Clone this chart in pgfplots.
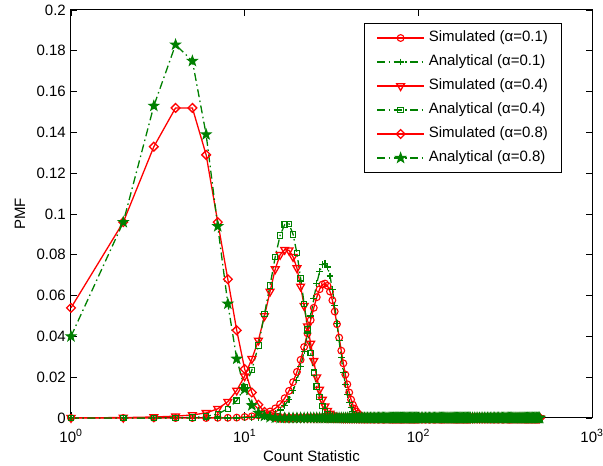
\documentclass[border=0pt]{standalone}
\usepackage{fontspec}
\setmainfont{Liberation Sans}
\usepackage{pgfplots}
\usepackage{pgfplotstable}
\pgfplotsset{compat=1.18}
\usetikzlibrary{plotmarks}
\definecolor{mgreen}{rgb}{0,0.5,0}
\pgfdeclareplotmark{pentagram}{%
  \pgfpathmoveto{\pgfpointpolar{90}{\pgfplotmarksize}}%
  \pgfpathlineto{\pgfpointpolar{126}{0.4\pgfplotmarksize}}%
  \pgfpathlineto{\pgfpointpolar{162}{\pgfplotmarksize}}%
  \pgfpathlineto{\pgfpointpolar{198}{0.4\pgfplotmarksize}}%
  \pgfpathlineto{\pgfpointpolar{234}{\pgfplotmarksize}}%
  \pgfpathlineto{\pgfpointpolar{270}{0.4\pgfplotmarksize}}%
  \pgfpathlineto{\pgfpointpolar{306}{\pgfplotmarksize}}%
  \pgfpathlineto{\pgfpointpolar{342}{0.4\pgfplotmarksize}}%
  \pgfpathlineto{\pgfpointpolar{18}{\pgfplotmarksize}}%
  \pgfpathlineto{\pgfpointpolar{54}{0.4\pgfplotmarksize}}%
  \pgfpathclose
  \pgfusepathqfillstroke
}
\pgfplotstableread{
x s1 a1 s4 a4 s8 a8
1 0 0 0.0001 0 0.054 0.040
2 0 0 0.0002 0 0.096 0.096
3 0 0 0.0005 0 0.133 0.153
4 0 0 0.0009 0.0001 0.152 0.183
5 0 0 0.0015 0.0003 0.152 0.175
6 0 0 0.0025 0.0008 0.129 0.139
7 0.0001 0 0.0045 0.0020 0.096 0.094
8 0.0001 0 0.0080 0.0045 0.068 0.056
9 0.0002 0 0.0135 0.0085 0.043 0.029
10 0.0005 0.0001 0.0205 0.0150 0.024 0.0141
11 0.0008 0.0002 0.0290 0.0235 0.0125 0.0062
12 0.0013 0.0004 0.0380 0.0355 0.0065 0.0025
13 0.0021 0.0008 0.0500 0.0510 0.0030 0.0010
14 0.0032 0.0014 0.0620 0.0650 0.0013 0.0004
15 0.0047 0.0024 0.0730 0.0790 0.0005 0.0001
16 0.0068 0.0039 0.0800 0.0895 0.0002 0
17 0.0097 0.0061 0.0825 0.0948 0.0001 0
18 0.0133 0.0092 0.0822 0.0952 0 0
19 0.0176 0.0133 0.0790 0.0900 0 0
20 0.0226 0.0186 0.0735 0.0808 0 0
21 0.0285 0.0252 0.0645 0.0685 0 0
22 0.0348 0.0328 0.0550 0.0560 0 0
23 0.0415 0.0413 0.0450 0.0435 0 0
24 0.0480 0.0500 0.0365 0.0318 0 0
25 0.0540 0.0585 0.0280 0.0222 0 0
26 0.0592 0.0659 0.0200 0.0155 0 0
27 0.0631 0.0717 0.0140 0.0102 0 0
28 0.0654 0.0751 0.0090 0.0060 0 0
29 0.0659 0.0759 0.0058 0.0035 0 0
30 0.0648 0.0740 0.0036 0.0019 0 0
31 0.0620 0.0696 0.0022 0.0010 0 0
32 0.0577 0.0631 0.0013 0.0005 0 0
33 0.0522 0.0552 0.0008 0.0002 0 0
34 0.0460 0.0465 0.0004 0.0001 0 0
35 0.0394 0.0378 0.0002 0 0 0
36 0.0330 0.0297 0.0001 0 0 0
37 0.0268 0.0224 0 0 0 0
38 0.0213 0.0163 0 0 0 0
39 0.0165 0.0115 0 0 0 0
40 0.0125 0.0078 0 0 0 0
41 0.0090 0.0051 0 0 0 0
42 0.0065 0.0032 0 0 0 0
43 0.0046 0.0020 0 0 0 0
44 0.0032 0.0012 0 0 0 0
45 0.0022 0.0007 0 0 0 0
46 0.0014 0.0004 0 0 0 0
47 0.0009 0.0002 0 0 0 0
48 0.0005 0.0001 0 0 0 0
49 0.0003 0 0 0 0 0
50 0.0002 0 0 0 0 0
51 0.0001 0 0 0 0 0
52 0 0 0 0 0 0
53 0 0 0 0 0 0
54 0 0 0 0 0 0
55 0 0 0 0 0 0
56 0 0 0 0 0 0
57 0 0 0 0 0 0
58 0 0 0 0 0 0
59 0 0 0 0 0 0
60 0 0 0 0 0 0
61 0 0 0 0 0 0
62 0 0 0 0 0 0
63 0 0 0 0 0 0
64 0 0 0 0 0 0
65 0 0 0 0 0 0
66 0 0 0 0 0 0
67 0 0 0 0 0 0
68 0 0 0 0 0 0
69 0 0 0 0 0 0
70 0 0 0 0 0 0
71 0 0 0 0 0 0
72 0 0 0 0 0 0
73 0 0 0 0 0 0
74 0 0 0 0 0 0
75 0 0 0 0 0 0
76 0 0 0 0 0 0
77 0 0 0 0 0 0
78 0 0 0 0 0 0
79 0 0 0 0 0 0
80 0 0 0 0 0 0
81 0 0 0 0 0 0
82 0 0 0 0 0 0
83 0 0 0 0 0 0
84 0 0 0 0 0 0
85 0 0 0 0 0 0
86 0 0 0 0 0 0
87 0 0 0 0 0 0
88 0 0 0 0 0 0
89 0 0 0 0 0 0
90 0 0 0 0 0 0
91 0 0 0 0 0 0
92 0 0 0 0 0 0
93 0 0 0 0 0 0
94 0 0 0 0 0 0
95 0 0 0 0 0 0
96 0 0 0 0 0 0
97 0 0 0 0 0 0
98 0 0 0 0 0 0
99 0 0 0 0 0 0
100 0 0 0 0 0 0
102 0 0 0 0 0 0
104 0 0 0 0 0 0
106 0 0 0 0 0 0
108 0 0 0 0 0 0
110 0 0 0 0 0 0
112 0 0 0 0 0 0
114 0 0 0 0 0 0
116 0 0 0 0 0 0
118 0 0 0 0 0 0
120 0 0 0 0 0 0
122 0 0 0 0 0 0
124 0 0 0 0 0 0
126 0 0 0 0 0 0
128 0 0 0 0 0 0
130 0 0 0 0 0 0
132 0 0 0 0 0 0
134 0 0 0 0 0 0
136 0 0 0 0 0 0
138 0 0 0 0 0 0
140 0 0 0 0 0 0
142 0 0 0 0 0 0
144 0 0 0 0 0 0
146 0 0 0 0 0 0
148 0 0 0 0 0 0
150 0 0 0 0 0 0
152 0 0 0 0 0 0
154 0 0 0 0 0 0
156 0 0 0 0 0 0
158 0 0 0 0 0 0
160 0 0 0 0 0 0
162 0 0 0 0 0 0
164 0 0 0 0 0 0
166 0 0 0 0 0 0
168 0 0 0 0 0 0
170 0 0 0 0 0 0
172 0 0 0 0 0 0
174 0 0 0 0 0 0
176 0 0 0 0 0 0
178 0 0 0 0 0 0
180 0 0 0 0 0 0
182 0 0 0 0 0 0
184 0 0 0 0 0 0
186 0 0 0 0 0 0
188 0 0 0 0 0 0
190 0 0 0 0 0 0
192 0 0 0 0 0 0
194 0 0 0 0 0 0
196 0 0 0 0 0 0
198 0 0 0 0 0 0
200 0 0 0 0 0 0
205 0 0 0 0 0 0
210 0 0 0 0 0 0
215 0 0 0 0 0 0
220 0 0 0 0 0 0
225 0 0 0 0 0 0
230 0 0 0 0 0 0
235 0 0 0 0 0 0
240 0 0 0 0 0 0
245 0 0 0 0 0 0
250 0 0 0 0 0 0
255 0 0 0 0 0 0
260 0 0 0 0 0 0
265 0 0 0 0 0 0
270 0 0 0 0 0 0
275 0 0 0 0 0 0
280 0 0 0 0 0 0
285 0 0 0 0 0 0
290 0 0 0 0 0 0
295 0 0 0 0 0 0
300 0 0 0 0 0 0
305 0 0 0 0 0 0
310 0 0 0 0 0 0
315 0 0 0 0 0 0
320 0 0 0 0 0 0
325 0 0 0 0 0 0
330 0 0 0 0 0 0
335 0 0 0 0 0 0
340 0 0 0 0 0 0
345 0 0 0 0 0 0
350 0 0 0 0 0 0
355 0 0 0 0 0 0
360 0 0 0 0 0 0
365 0 0 0 0 0 0
370 0 0 0 0 0 0
375 0 0 0 0 0 0
380 0 0 0 0 0 0
385 0 0 0 0 0 0
390 0 0 0 0 0 0
395 0 0 0 0 0 0
400 0 0 0 0 0 0
405 0 0 0 0 0 0
410 0 0 0 0 0 0
415 0 0 0 0 0 0
420 0 0 0 0 0 0
425 0 0 0 0 0 0
430 0 0 0 0 0 0
435 0 0 0 0 0 0
440 0 0 0 0 0 0
445 0 0 0 0 0 0
450 0 0 0 0 0 0
455 0 0 0 0 0 0
460 0 0 0 0 0 0
465 0 0 0 0 0 0
470 0 0 0 0 0 0
475 0 0 0 0 0 0
480 0 0 0 0 0 0
485 0 0 0 0 0 0
490 0 0 0 0 0 0
495 0 0 0 0 0 0
500 0 0 0 0 0 0
}\datatable
\pgfplotsset{
  sim/.style={color=red, solid, line width=1.3pt, mark options={solid, line width=1.1pt}},
  ana/.style={color=mgreen, line width=1.3pt, dash pattern=on 8pt off 3.5pt on 1.5pt off 3.5pt, mark options={solid, line width=1.1pt}},
}
\begin{document}
\fontsize{15}{18}\selectfont
\begin{tikzpicture}
\path[use as bounding box] (-71pt,-48pt) rectangle (532pt,418pt);
\begin{axis}[
  scale only axis, width=521pt, height=408pt,
  xmode=log, log basis x=10,
  xmin=1, xmax=1000, ymin=0, ymax=0.2,
  xtick={1,10,100,1000},
  xticklabels={10\textsuperscript{0},10\textsuperscript{1},10\textsuperscript{2},10\textsuperscript{3}},
  ytick={0,0.02,0.04,0.06,0.08,0.1,0.12,0.14,0.16,0.18,0.2},
  yticklabels={0,0.02,0.04,0.06,0.08,0.1,0.12,0.14,0.16,0.18,0.2},
  tick align=inside,
  major tick length=6pt, minor tick length=4pt,
  every tick/.style={black, line width=0.8pt},
  axis line style={black, line width=1pt},
  clip=false,
  tick label style={font=\fontsize{15}{18}\selectfont},
  xticklabel style={anchor=base, yshift=-24pt},
  label style={font=\fontsize{15}{18}\selectfont},
  xlabel={Count Statistic},
  ylabel={PMF},
  xlabel style={at={(axis description cs:0.4616,-0.1078)}, anchor=base},
  ylabel style={at={(axis description cs:-0.0979,0.5)}, anchor=center, rotate=0},
  legend style={at={(axis description cs:0.5624,0.968)}, anchor=north west,
    draw=black, line width=0.9pt, font=\fontsize{15}{18}\selectfont,
    row sep=5pt, column sep=2pt, inner xsep=12pt, inner ysep=5pt,
    nodes={inner sep=2pt, text height=11pt, text depth=4pt},
    cells={anchor=west}},
  legend image code/.code={%
    \draw[mark repeat=2,mark phase=2,#1] plot coordinates {(0pt,0pt) (23.5pt,0pt) (47pt,0pt)};},
]
\addplot[sim, mark=o, mark size=3.4pt] table[x=x,y=s1]{\datatable};
\addlegendentry{Simulated (α=0.1)}
\addplot[ana, mark=+, mark size=3.4pt] table[x=x,y=a1]{\datatable};
\addlegendentry{Analytical (α=0.1)}
\addplot[sim, mark=triangle, mark size=4.5pt, mark options={rotate=180}] table[x=x,y=s4]{\datatable};
\addlegendentry{Simulated (α=0.4)}
\addplot[ana, mark=square, mark size=2.7pt] table[x=x,y=a4]{\datatable};
\addlegendentry{Analytical (α=0.4)}
\addplot[sim, mark=square, mark size=3.1pt, mark options={rotate=45}] table[x=x,y=s8]{\datatable};
\addlegendentry{Simulated (α=0.8)}
\addplot[ana, mark=pentagram, mark size=5pt] table[x=x,y=a8]{\datatable};
\addlegendentry{Analytical (α=0.8)}
\end{axis}
\end{tikzpicture}
\end{document}
